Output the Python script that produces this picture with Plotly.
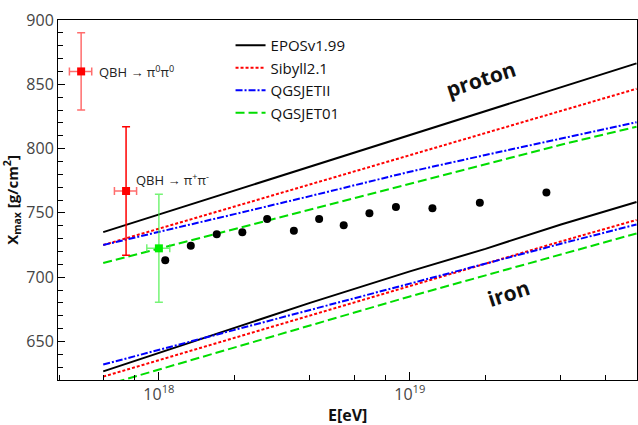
import math
import plotly.graph_objects as go

# ---------------- data ----------------
E_MODEL = [6e17, 1e18, 2e18, 4e18, 1e19, 2e19, 4e19, 8e19]

EPOS_P = [735.0, 748.7, 767.3, 785.9, 810.5, 829.1, 847.7, 866.3]
SIBYLL_P = [725.0, 737.7, 755.0, 772.3, 795.2, 812.5, 829.8, 846.5]
QGSII_P = [725.0, 735.0, 749.0, 763.0, 782.0, 795.0, 808.0, 820.5]
QGS01_P = [711.0, 722.2, 737.4, 752.6, 772.7, 788.0, 803.0, 817.0]

EPOS_FE = [626.7, 641.0, 660.0, 680.0, 704.5, 722.0, 741.0, 758.5]
SIBYLL_FE = [622.6, 635.4, 652.7, 670.1, 693.0, 710.4, 727.8, 744.5]
QGSII_FE = [632.0, 643.5, 659.0, 674.5, 695.0, 710.5, 726.0, 741.0]
QGS01_FE = [615.5, 628.0, 645.3, 662.4, 685.0, 701.5, 718.0, 734.0]

MODEL_NAMES = ["EPOSv1.99", "Sibyll2.1", "QGSJETII", "QGSJET01"]

E_DATA = [1.06e18, 1.34e18, 1.7e18, 2.15e18, 2.7e18, 3.45e18, 4.35e18,
          5.45e18, 6.9e18, 8.8e18, 1.23e19, 1.9e19, 3.5e19]
X_DATA = [713.1, 724.5, 733.3, 734.9, 745.2, 736.1, 745.2,
          740.3, 749.6, 754.6, 753.5, 757.9, 765.8]

QBH_E = [4.9e17, 7.4e17]
QBH_X = [860.0, 767.0]
QBH_XERR = [30.0, 50.0]
QBH_EERR = [0.5e17, 0.75e17]
QBH_LABELS = ["QBH → π<sup>0</sup>π<sup>0</sup>", "QBH → π<sup>+</sup>π<sup>-</sup>"]

GREEN_E = [1.0e18]
GREEN_X = [722.4]
GREEN_XERR = [42.0]
GREEN_EERR = [1.05e17]

X_TICKS = [1e18, 1e19]
X_TICKTEXT = ["10<sup>18</sup>", "10<sup>19</sup>"]
X_MINOR = [2e17, 4e17, 6e17, 8e17, 2e18, 4e18, 6e18, 8e18, 2e19, 4e19, 6e19, 8e19]
Y_TICKS = [650, 700, 750, 800, 850, 900]

PROTON_POS = (19.282, 854.0)
IRON_POS = (19.394, 688.0)

FONT = "Open Sans"

# ---------------- figure ----------------
fig = go.Figure()

styles = [
    dict(color="black", width=2, dash="solid"),
    dict(color="#ff0000", width=2, dash="3px,2px"),
    dict(color="#0000ff", width=2, dash="7px,2px,2px,2px"),
    dict(color="#00dd00", width=2, dash="9px,4px"),
]
protons = [EPOS_P, SIBYLL_P, QGSII_P, QGS01_P]
irons = [EPOS_FE, SIBYLL_FE, QGSII_FE, QGS01_FE]

for name, st, p in zip(MODEL_NAMES, styles, protons):
    fig.add_trace(go.Scatter(x=E_MODEL, y=p, mode="lines", name=name,
                             line=st, hoverinfo="skip"))
for name, st, fe in zip(MODEL_NAMES, styles, irons):
    fig.add_trace(go.Scatter(x=E_MODEL, y=fe, mode="lines", name=name,
                             line=st, showlegend=False, hoverinfo="skip"))

# data points
fig.add_trace(go.Scatter(x=E_DATA, y=X_DATA, mode="markers", showlegend=False,
                         marker=dict(color="black", size=8, symbol="circle")))

# QBH pi0 pi0
fig.add_trace(go.Scatter(
    x=QBH_E[:1], y=QBH_X[:1], mode="markers", showlegend=False,
    marker=dict(color="#ff0000", size=8, symbol="square"),
    error_y=dict(type="data", array=QBH_XERR[:1], color="rgba(255,60,60,0.75)",
                 thickness=1.5, width=4),
    error_x=dict(type="data", array=QBH_EERR[:1], color="rgba(255,60,60,0.75)",
                 thickness=1.5, width=4)))
# QBH pi+ pi-
fig.add_trace(go.Scatter(
    x=QBH_E[1:], y=QBH_X[1:], mode="markers", showlegend=False,
    marker=dict(color="#ff0000", size=8, symbol="square"),
    error_y=dict(type="data", array=QBH_XERR[1:], color="#ff0000",
                 thickness=1.5, width=4),
    error_x=dict(type="data", array=QBH_EERR[1:], color="rgba(255,60,60,0.75)",
                 thickness=1.5, width=4)))
# green point
fig.add_trace(go.Scatter(
    x=GREEN_E, y=GREEN_X, mode="markers", showlegend=False,
    marker=dict(color="#00ee00", size=8, symbol="square"),
    error_y=dict(type="data", array=GREEN_XERR, color="rgba(60,240,60,0.7)",
                 thickness=1.5, width=4),
    error_x=dict(type="data", array=GREEN_EERR, color="rgba(60,240,60,0.7)",
                 thickness=1.5, width=4)))

# labels
fig.add_annotation(x=math.log10(QBH_E[0]), y=QBH_X[0], text=QBH_LABELS[0],
                   showarrow=False, xanchor="left", yanchor="middle",
                   xshift=16, font=dict(family=FONT, size=13, color="#222"))
fig.add_annotation(x=math.log10(QBH_E[1]), y=QBH_X[1], text=QBH_LABELS[1],
                   showarrow=False, xanchor="left", yanchor="middle",
                   xshift=8, yshift=12, font=dict(family=FONT, size=13, color="#222"))
fig.add_annotation(x=PROTON_POS[0], y=PROTON_POS[1], text="<b>proton</b>",
                   showarrow=False, textangle=-18,
                   font=dict(family=FONT, size=21, color="#111"))
fig.add_annotation(x=IRON_POS[0], y=IRON_POS[1], text="<b>iron</b>",
                   showarrow=False, textangle=-18,
                   font=dict(family=FONT, size=21, color="#111"))
# x axis title
fig.add_annotation(x=0.5, y=0, xref="paper", yref="paper", text="<b>E[eV]</b>",
                   showarrow=False, xanchor="center", yanchor="middle", yshift=-35,
                   font=dict(family=FONT, size=16, color="#111"))

XR = [17.598, 19.905]
YR = [620, 900]

fig.update_layout(
    width=638, height=425,
    margin=dict(l=58, r=1, t=20, b=45),
    paper_bgcolor="white", plot_bgcolor="white",
    font=dict(family=FONT, size=16, color="#333"),
    showlegend=True,
    legend=dict(x=0.298, y=0.975, xanchor="left", yanchor="top",
                bgcolor="rgba(0,0,0,0)", font=dict(family=FONT, size=15, color="#111"),
                tracegroupgap=0),
    xaxis=dict(type="log", range=XR, showgrid=False, zeroline=False, automargin=False,
               showline=True, linecolor="black", linewidth=1, mirror=True,
               tickvals=X_TICKS, ticktext=X_TICKTEXT, ticks="inside", ticklen=8,
               tickcolor="black",
               tickfont=dict(family=FONT, size=16, color="#444"),
               minor=dict(tickvals=X_MINOR, ticks="inside", ticklen=5, tickcolor="black")),
    yaxis=dict(range=YR, showgrid=False, zeroline=False, automargin=False,
               showline=True, linecolor="black", linewidth=1, mirror=True,
               tickvals=Y_TICKS, ticks="inside", ticklen=7, tickcolor="black",
               tickfont=dict(family=FONT, size=16, color="#444"),
               minor=dict(dtick=10, ticks="inside", ticklen=5, tickcolor="black"),
               title=dict(text="<b>X<sub>max</sub> [g/cm<sup>2</sup>]</b>", standoff=4,
                          font=dict(family=FONT, size=15, color="#111"))),
    xaxis2=dict(type="log", range=XR, overlaying="x", side="top", anchor="y",
                showgrid=False, zeroline=False, showline=False, automargin=False,
                tickvals=X_TICKS, ticks="inside", ticklen=8, tickcolor="black",
                showticklabels=False),
    yaxis2=dict(range=YR, overlaying="y", side="right", anchor="x",
                showgrid=False, zeroline=False, showline=False, automargin=False,
                tickvals=Y_TICKS, ticks="inside", ticklen=7, tickcolor="black",
                showticklabels=False),
)

fig.write_html(
    "out.html",
    config={"responsive": False, "displayModeBar": False},
    post_script="document.body.style.margin='0';document.body.style.padding='0';"
                "document.body.style.overflow='hidden';",
)
